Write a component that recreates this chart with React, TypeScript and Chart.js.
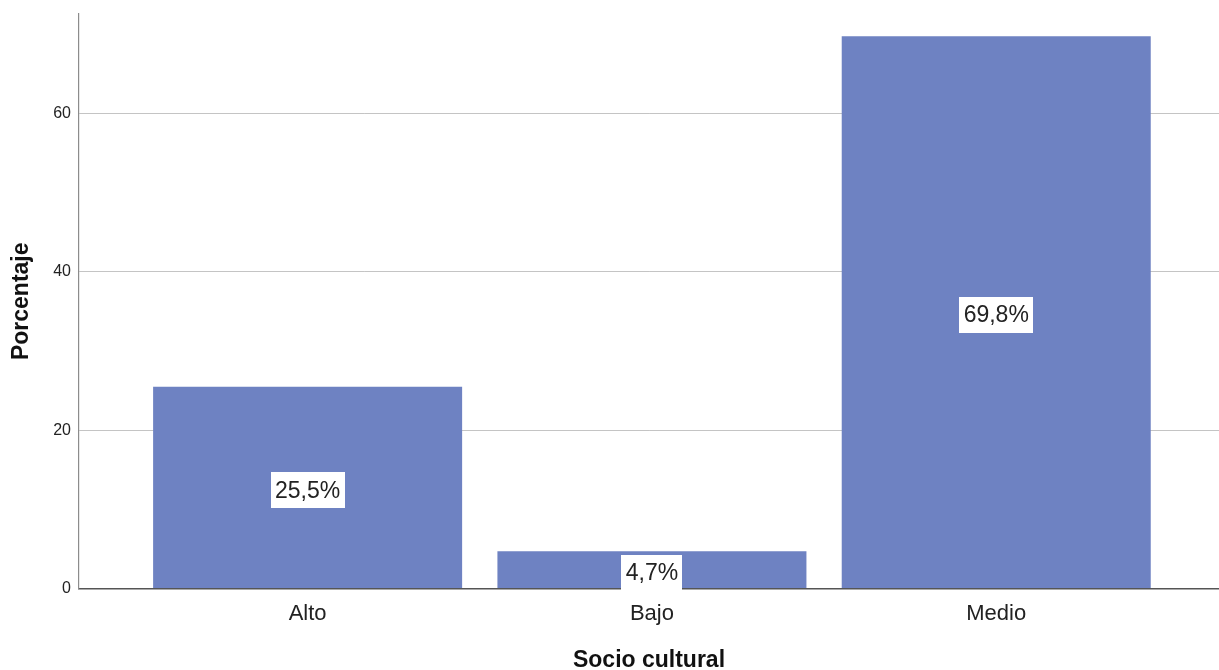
import React, { useEffect, useRef } from "react";
import { Chart, registerables } from "chart.js";

Chart.register(...registerables);

const categories = ["Alto", "Bajo", "Medio"];
const values = [25.5, 4.7, 69.8];
const yTicks = [0, 20, 40, 60];
const xTitle = "Socio cultural";
const yTitle = "Porcentaje";

const FONT = "'Liberation Sans', Arial, sans-serif";
const BAR_COLOR = "#6e82c2";

const labelPlugin = {
  id: "barLabels",
  afterDatasetsDraw(chart: any) {
    const ctx = chart.ctx;
    const meta = chart.getDatasetMeta(0);
    ctx.save();
    ctx.font = `23px ${FONT}`;
    ctx.textAlign = "center";
    ctx.textBaseline = "middle";
    meta.data.forEach((bar: any, i: number) => {
      const text = values[i].toFixed(1).replace(".", ",") + "%";
      const w = ctx.measureText(text).width + 9;
      const h = 36;
      const cx = bar.x;
      const cy = (bar.y + bar.base) / 2 + 3;
      ctx.fillStyle = "#ffffff";
      ctx.fillRect(Math.round(cx - w / 2), Math.round(cy - h / 2), Math.round(w), h);
      ctx.fillStyle = "#222222";
      ctx.fillText(text, cx, cy + 1);
    });
    ctx.restore();
  },
};

export default function App() {
  const ref = useRef<HTMLCanvasElement | null>(null);
  useEffect(() => {
    if (!ref.current) return;
    const chart = new Chart(ref.current, {
      type: "bar",
      data: {
        datasets: [
          {
            data: values.map((v, i) => ({ x: i, y: v })),
            backgroundColor: BAR_COLOR,
            borderWidth: 0,
            barPercentage: 0.8975,
            categoryPercentage: 1,
          },
        ],
      },
      options: {
        animation: false,
        responsive: true,
        maintainAspectRatio: false,
        layout: { padding: { top: 14, left: 0, right: 0, bottom: 0 } },
        plugins: {
          legend: { display: false },
          tooltip: { enabled: false },
        },
        scales: {
          x: {
            type: "linear",
            offset: false,
            min: -0.664,
            max: 2.647,
            afterBuildTicks: (scale: any) => {
              scale.ticks = categories.map((_, i) => ({ value: i }));
            },
            afterFit: (scale: any) => {
              scale.height = 81.5;
              scale.paddingLeft = 0;
              scale.paddingRight = 0;
            },
            grid: { display: false, offset: false, drawTicks: false, tickLength: 0 },
            border: { display: true, color: "#555555", width: 1.5 },
            ticks: {
              padding: 12,
              color: "#222222",
              font: { family: FONT, size: 22 },
              callback: (v: any) => categories[v] ?? "",
            },
            title: {
              display: true,
              text: xTitle,
              color: "#111111",
              font: { family: FONT, size: 23, weight: "bold", lineHeight: 1 },
              padding: { top: 0, bottom: -2 },
            },
          },
          y: {
            type: "linear",
            min: 0,
            max: 72.6,
            afterBuildTicks: (scale: any) => {
              scale.ticks = yTicks.map((v) => ({ value: v }));
            },
            afterFit: (scale: any) => {
              scale.width = 79;
              scale.paddingTop = 0;
              scale.paddingBottom = 0;
            },
            grid: {
              color: (c: any) => (c.tick && c.tick.value === 0 ? "rgba(0,0,0,0)" : "#c4c4c4"),
              lineWidth: 1,
              drawTicks: false,
              tickLength: 0,
            },
            border: { display: true, color: "#8c8c8c", width: 1.2 },
            ticks: {
              padding: 8,
              color: "#222222",
              font: { family: FONT, size: 16 },
            },
            title: {
              display: true,
              text: yTitle,
              color: "#111111",
              font: { family: FONT, size: 23, weight: "bold", lineHeight: 1.2 },
              padding: { top: 8, bottom: 0 },
            },
          },
        },
      },
      plugins: [labelPlugin],
    });
    return () => chart.destroy();
  }, []);

  return (
    <div style={{ position: "absolute", left: 0, top: 0, width: 1219, height: 670, background: "#fff" }}>
      <canvas ref={ref} />
    </div>
  );
}
